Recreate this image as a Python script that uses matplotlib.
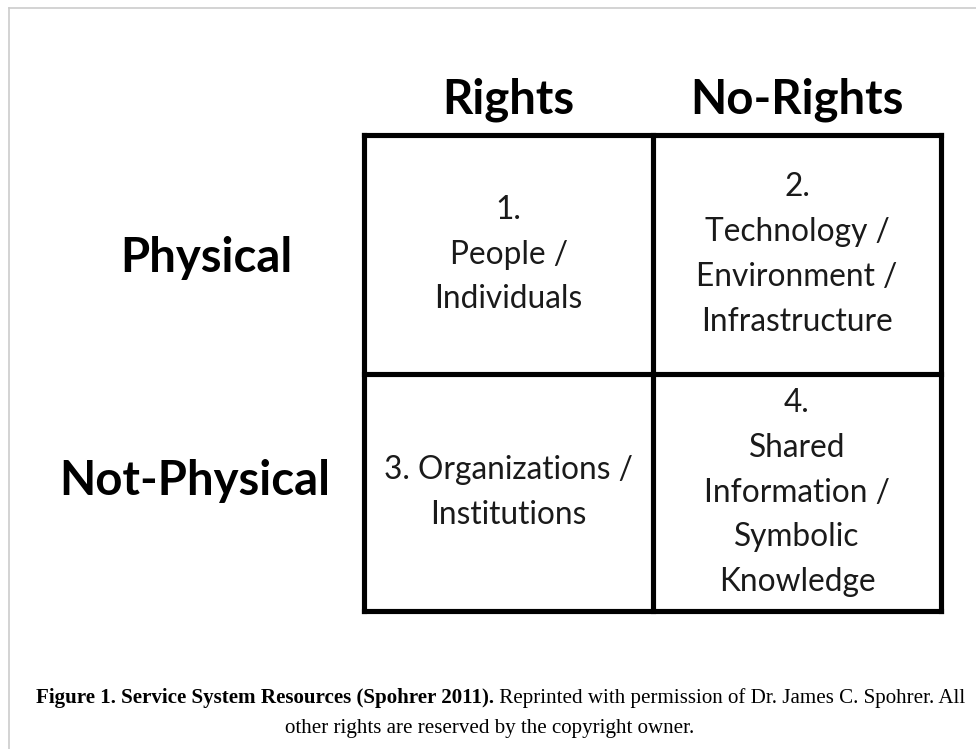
import matplotlib
matplotlib.use('Agg')
import matplotlib.pyplot as plt

# Column / row headers of the 2x2 matrix
col_labels = ['Rights', 'No-Rights']
row_labels = ['Physical', 'Not-Physical']

# Cell contents, row by row
cell_texts = [
    ['1.\nPeople /\nIndividuals', '2.\nTechnology /\nEnvironment /\nInfrastructure'],
    ['3. Organizations /\nInstitutions', '4.\nShared\nInformation /\nSymbolic\nKnowledge'],
]

caption_bold = 'Figure 1. Service System Resources (Spohrer 2011).'
caption_rest = ' Reprinted with permission of Dr. James C. Spohrer. All'
caption_line2 = 'other rights are reserved by the copyright owner.'

# Layout in pixel coordinates
W, H = 976, 749
x_edges = [364, 653, 941]
y_edges = [135, 374, 611]

fig = plt.figure(figsize=(W / 100, H / 100), dpi=100)
ax = fig.add_axes([0, 0, 1, 1])
ax.set_xlim(0, W)
ax.set_ylim(H, 0)
ax.axis('off')

# light frame (only top and left edges show)
ax.plot([9, W], [8, 8], color='#cccccc', lw=1.2)
ax.plot([9, 9], [8, H], color='#cccccc', lw=1.2)

# grid
lw = 3.7
for x in x_edges:
    ax.plot([x, x], [y_edges[0], y_edges[-1]], color='black', lw=lw, solid_capstyle='projecting')
for y in y_edges:
    ax.plot([x_edges[0], x_edges[-1]], [y, y], color='black', lw=lw, solid_capstyle='projecting')

head_font = dict(family='Lato', weight='bold', size=34, color='black')
cell_font = dict(family='Lato', size=22.8, color='#1a1a1a', linespacing=1.62)

# column headers
for i, lab in enumerate(col_labels):
    cx = (x_edges[i] + x_edges[i + 1]) / 2
    ax.text(cx, 113, lab, ha='center', va='baseline', **head_font)

# row headers
row_x = [206, 195]
row_base = [272, 495]
for j, lab in enumerate(row_labels):
    ax.text(row_x[j], row_base[j], lab, ha='center', va='baseline', **head_font)

# cells
for j in range(2):
    for i in range(2):
        cx = (x_edges[i] + x_edges[i + 1]) / 2
        cy = (y_edges[j] + y_edges[j + 1]) / 2
        ax.text(cx, cy, cell_texts[j][i], ha='center', va='center',
                multialignment='center', **cell_font)

# caption: bold part followed by regular part
cap_font = dict(family='Liberation Serif', size=15.1, color='black')
t1 = ax.text(36, 703, caption_bold, ha='left', va='baseline', weight='bold', **cap_font)
fig.canvas.draw()
bb = t1.get_window_extent()
x_end = ax.transData.inverted().transform((bb.x1, bb.y0))[0]
ax.text(x_end, 703, caption_rest, ha='left', va='baseline', **cap_font)
ax.text(490, 733, caption_line2, ha='center', va='baseline', **cap_font)

fig.savefig('out.png', dpi=100, facecolor='white')
